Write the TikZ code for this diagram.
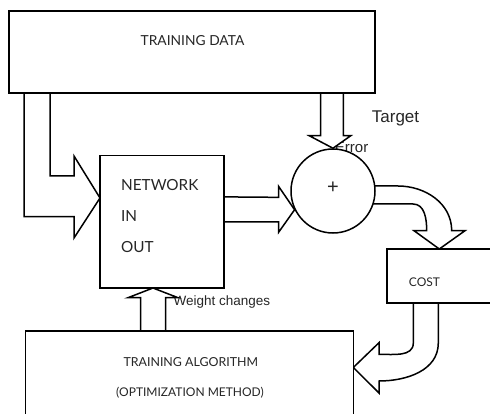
\documentclass[tikz,border=0pt]{standalone}
\usepackage{fontspec}
\setmainfont{Lato}
\newfontfamily\labelfont{Liberation Sans}
\usetikzlibrary{calc}
\pgfdeclarelayer{labels}
\pgfdeclarelayer{arrows}
\pgfsetlayers{labels,arrows,main}

\begin{document}
\begin{tikzpicture}[x=1pt,y=-1pt,line width=1.5pt,
  box/.style={draw,fill=white,inner sep=0pt,outer sep=0pt,anchor=north west},
  boxtext/.style={font=\fontsize{#1}{#1}\selectfont,inner sep=0pt,text=black!85},
  boxtext/.default=12,
  armlabel/.style={font=\labelfont\fontsize{#1}{#1}\selectfont,inner sep=0pt,text=black!85},
  armlabel/.default=14,
  blockarrow/.style={draw,fill=white,line width=1.5pt,line join=miter}]
  \useasboundingbox (0,0) rectangle (490,414);
  \clip (0,0) rectangle (490,414);

  % blocks
  \node[box,minimum width=366,minimum height=82] (data) at (9,11) {};
  \node[box,minimum width=124,minimum height=132.3] (net) at (100,155.7) {};
  \node[draw,fill=white,circle,minimum size=84,inner sep=0pt] (sum) at (333,191) {};
  \node[box,minimum width=140,minimum height=54] (cost) at (387,249) {};
  \node[box,minimum width=327.6,minimum height=110] (algo) at (25.7,331) {};

  \coordinate (inTip) at ($(net.north west)+(0,42.3)$);
  \coordinate (costTip) at ($(cost.north west)+(52.3,0)$);
  \coordinate (algoTip) at ($(algo.north east)+(0,36.5)$);
  \coordinate (netTip) at ($(net.south west)+(53,0)$);

  % labels that the arrow heads partly cover
  \begin{pgfonlayer}{labels}
    \node[armlabel=15,anchor=base east] (errorLabel) at (368.5,152.5) {Error};
    \node[armlabel=13.5,anchor=base west] (weightLabel) at (173.3,305.7) {Weight changes};
  \end{pgfonlayer}

  \begin{pgfonlayer}{arrows}
    % data -> network
    \draw[blockarrow] ($(data.south west)+(15,-4)$) |- ($(inTip)+(-26,18.7)$) -- ++(0,21.3)
      -- (inTip) -- ($(inTip)+(-26,-42)$) -- ++(0,20) -| ($(data.south west)+(41,-4)$);
    % network -> sum
    \draw[blockarrow] ($(net.east)+(-4,-25)$) -- ($(sum.206)+(-16,-12.4)$) -- ++(0,-11)
      -- (sum.206) -- ($(sum.206)+(-16,22.6)$) -- ++(0,-10.4) -- ($(net.east)+(-4,0)$);
    % data -> sum (target)
    \draw[blockarrow] ($(sum.north)+(-12.3,-60)$) -- ++(0,47.5) -- ($(sum.north)+(-23.7,-12.5)$)
      -- (sum.north) -- ($(sum.north)+(17.7,-12.5)$) -- ++(-7.4,0) -- ++(0,-47.5);
    % sum -> cost
    \draw[blockarrow] ($(sum.center)+(37,-5)$) -- (398,186) to[out=0,in=90] ($(costTip)+(12.4,-18.3)$)
      -- ($(costTip)+(25.7,-18.3)$) -- (costTip) -- ($(costTip)+(-25.3,-18.3)$)
      -- ($(costTip)+(-12.6,-18.3)$) to[out=90,in=0] (413,204) -- ($(sum.center)+(37,13)$);
    % cost -> algorithm
    \draw[blockarrow] ($(cost.south west)+(26.3,-3)$) -- (413.3,343) to[out=-90,in=0] ($(algoTip)+(25.7,-13.2)$)
      -- ($(algoTip)+(25.7,-24.8)$) -- (algoTip) -- ($(algoTip)+(25.7,25.5)$)
      -- ($(algoTip)+(25.7,13.5)$) to[out=0,in=-90] (438.3,343) -- ($(cost.south west)+(51.3,-3)$);
    % algorithm -> network (weight changes)
    \draw[blockarrow] ($(netTip)+(-12.3,46)$) -- ++(0,-36.3) -- ($(netTip)+(-25,9.7)$)
      -- (netTip) -- ($(netTip)+(25,9.7)$) -- ++(-12.5,0) -- ++(0,36.3);
  \end{pgfonlayer}

  % texts
  \node[boxtext=13.8,anchor=base] (dataText) at (192.5,46) {TRAINING DATA};
  \node[boxtext=15.3,anchor=base west] (netName) at (121,191) {NETWORK};
  \node[boxtext=15.3,anchor=base west] (netIn) at (121,221.7) {IN};
  \node[boxtext=15.3,anchor=base west] (netOut) at (121,252.7) {OUT};
  \node[armlabel=20] (plus) at (333,188) {+};
  \node[armlabel=17,anchor=base west] (targetLabel) at (371.7,122.7) {Target};
  \node[boxtext=12,anchor=base west] (costText) at (408.7,286) {COST};
  \node[boxtext=12.4,anchor=base] (algoText) at (190.8,366.7) {TRAINING ALGORITHM};
  \node[boxtext=12,anchor=base] (algoSub) at (190,396) {(OPTIMIZATION METHOD)};
\end{tikzpicture}
\end{document}
